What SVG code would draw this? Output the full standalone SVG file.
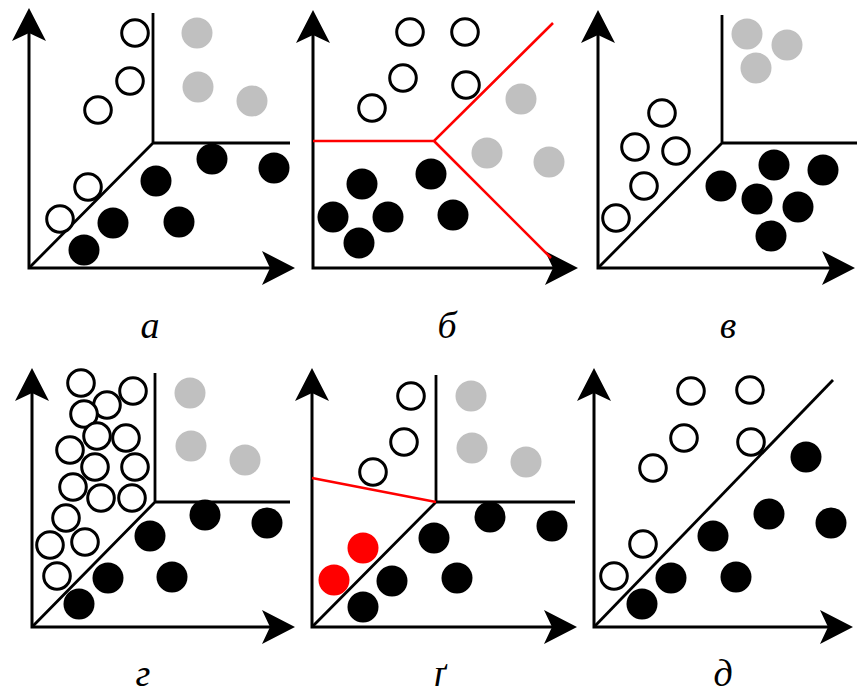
<svg xmlns="http://www.w3.org/2000/svg" width="857" height="696" viewBox="0 0 857 696">
<style>
.ax{fill:none;stroke:#000;stroke-width:3;stroke-linejoin:miter;marker-start:url(#ahs);marker-end:url(#ah)}
.bd{fill:none;stroke:#000;stroke-width:2.8}
.rd{fill:none;stroke:#f00;stroke-width:2.6}
.o{fill:#fff;stroke:#000;stroke-width:3}
.k{fill:#000}
.g{fill:#c0c0c0}
.r{fill:#f00}
.lb{font-family:"Liberation Serif","Times New Roman",serif;font-style:italic;font-size:38px;text-anchor:middle;fill:#000}
</style>
<defs>
<marker id="ah" markerUnits="userSpaceOnUse" markerWidth="34" markerHeight="34" viewBox="0 0 34 34" refX="29" refY="17" orient="auto">
<path d="M33,17 L0,0 L8,17 L0,34 Z" fill="#000"/>
</marker>
<marker id="ahs" markerUnits="userSpaceOnUse" markerWidth="34" markerHeight="34" viewBox="0 0 34 34" refX="29" refY="17" orient="auto-start-reverse">
<path d="M33,17 L0,0 L8,17 L0,34 Z" fill="#000"/>
</marker>
</defs>
<rect width="857" height="696" fill="#fff"/>

<g id="panel-a">
<g id="lines-a">
<path class="ax" d="M29,12 V268 H291"/>
<path class="bd" d="M29,268 L153,143 M153,13 V143 H290"/>
</g>
<g id="pts-a">
<circle class="o" cx="135" cy="33" r="13.3"/>
<circle class="o" cx="130" cy="81" r="13.3"/>
<circle class="o" cx="98" cy="110" r="13.3"/>
<circle class="o" cx="88" cy="187" r="13.3"/>
<circle class="o" cx="60" cy="219" r="13.3"/>
<circle class="g" cx="197" cy="33" r="15.5"/>
<circle class="g" cx="198" cy="87" r="15.5"/>
<circle class="g" cx="252" cy="101" r="15.5"/>
<circle class="k" cx="156" cy="181" r="15.5"/>
<circle class="k" cx="212" cy="159" r="15.5"/>
<circle class="k" cx="274" cy="168" r="15.5"/>
<circle class="k" cx="113" cy="223" r="15.5"/>
<circle class="k" cx="179" cy="222" r="15.5"/>
<circle class="k" cx="84" cy="250" r="15.5"/>
</g>
<text class="lb" x="150" y="338">а</text>
</g>

<g id="panel-b">
<g id="lines-b">
<path class="ax" d="M313,14 V268 H574"/>
<path class="rd" d="M313,141 H434 L553,23 M434,141 L551,258"/>
</g>
<g id="pts-b">
<circle class="o" cx="410" cy="32" r="13.3"/>
<circle class="o" cx="465" cy="32" r="13.3"/>
<circle class="o" cx="403" cy="78" r="13.3"/>
<circle class="o" cx="466" cy="85" r="13.3"/>
<circle class="o" cx="372" cy="108" r="13.3"/>
<circle class="g" cx="521" cy="99" r="15.5"/>
<circle class="g" cx="487" cy="153" r="15.5"/>
<circle class="g" cx="549" cy="162" r="15.5"/>
<circle class="k" cx="362" cy="184" r="15.5"/>
<circle class="k" cx="431" cy="174" r="15.5"/>
<circle class="k" cx="333" cy="217" r="15.5"/>
<circle class="k" cx="388" cy="217" r="15.5"/>
<circle class="k" cx="453" cy="215" r="15.5"/>
<circle class="k" cx="359" cy="243" r="15.5"/>
</g>
<text class="lb" x="447" y="338">б</text>
</g>

<g id="panel-v">
<g id="lines-v">
<path class="ax" d="M598,14 V268 H851"/>
<path class="bd" d="M598,268 L722,143 M722,15 V143 H857"/>
</g>
<g id="pts-v">
<circle class="g" cx="747" cy="34" r="15.5"/>
<circle class="g" cx="787" cy="45" r="15.5"/>
<circle class="g" cx="756" cy="68" r="15.5"/>
<circle class="o" cx="662" cy="113" r="13.3"/>
<circle class="o" cx="635" cy="147" r="13.3"/>
<circle class="o" cx="676" cy="151" r="13.3"/>
<circle class="o" cx="644" cy="186" r="13.3"/>
<circle class="o" cx="616" cy="218" r="13.3"/>
<circle class="k" cx="774" cy="165" r="15.5"/>
<circle class="k" cx="823" cy="170" r="15.5"/>
<circle class="k" cx="721" cy="186" r="15.5"/>
<circle class="k" cx="757" cy="199" r="15.5"/>
<circle class="k" cx="798" cy="207" r="15.5"/>
<circle class="k" cx="771" cy="236" r="15.5"/>
</g>
<text class="lb" x="728" y="338">в</text>
</g>

<g id="panel-g">
<g id="lines-g">
<path class="ax" d="M32,372 V627 H291"/>
<path class="bd" d="M32,627 L155,502 M155,373 V502 H290"/>
</g>
<g id="pts-g">
<circle class="o" cx="81" cy="383" r="13.3"/>
<circle class="o" cx="133" cy="391" r="13.3"/>
<circle class="o" cx="107" cy="405" r="13.3"/>
<circle class="o" cx="84" cy="414" r="13.3"/>
<circle class="o" cx="97" cy="436" r="13.3"/>
<circle class="o" cx="126" cy="438" r="13.3"/>
<circle class="o" cx="70" cy="450" r="13.3"/>
<circle class="o" cx="95" cy="467" r="13.3"/>
<circle class="o" cx="135" cy="467" r="13.3"/>
<circle class="o" cx="73" cy="487" r="13.3"/>
<circle class="o" cx="101" cy="498" r="13.3"/>
<circle class="o" cx="132" cy="498" r="13.3"/>
<circle class="o" cx="66" cy="518" r="13.3"/>
<circle class="o" cx="50" cy="545" r="13.3"/>
<circle class="o" cx="85" cy="542" r="13.3"/>
<circle class="o" cx="57" cy="576" r="13.3"/>
<circle class="g" cx="190" cy="393" r="15.5"/>
<circle class="g" cx="191" cy="446" r="15.5"/>
<circle class="g" cx="245" cy="460" r="15.5"/>
<circle class="k" cx="205" cy="515" r="15.5"/>
<circle class="k" cx="267" cy="523" r="15.5"/>
<circle class="k" cx="150" cy="536" r="15.5"/>
<circle class="k" cx="108" cy="578" r="15.5"/>
<circle class="k" cx="172" cy="577" r="15.5"/>
<circle class="k" cx="79" cy="604" r="15.5"/>
</g>
<text class="lb" x="143" y="686">г</text>
</g>

<g id="panel-gg">
<g id="lines-gg">
<path class="ax" d="M312,372 V627 H573"/>
<path class="bd" d="M312,627 L436,502 M436,375 V502 H575"/>
<path class="rd" d="M312,478 L436,502"/>
</g>
<g id="pts-gg">
<circle class="o" cx="411" cy="396" r="13.3"/>
<circle class="o" cx="404" cy="442" r="13.3"/>
<circle class="o" cx="373" cy="472" r="13.3"/>
<circle class="g" cx="471" cy="396" r="15.5"/>
<circle class="g" cx="472" cy="448" r="15.5"/>
<circle class="g" cx="526" cy="462" r="15.5"/>
<circle class="r" cx="363" cy="548" r="15.5"/>
<circle class="r" cx="334" cy="580" r="15.5"/>
<circle class="k" cx="490" cy="517" r="15.5"/>
<circle class="k" cx="552" cy="526" r="15.5"/>
<circle class="k" cx="434" cy="538" r="15.5"/>
<circle class="k" cx="392" cy="581" r="15.5"/>
<circle class="k" cx="457" cy="578" r="15.5"/>
<circle class="k" cx="363" cy="607" r="15.5"/>
</g>
<text class="lb" x="440" y="686">ґ</text>
</g>

<g id="panel-d">
<g id="lines-d">
<path class="ax" d="M594,372 V627 H849"/>
<path class="bd" d="M594,627 L833,380"/>
</g>
<g id="pts-d">
<circle class="o" cx="691" cy="391" r="13.3"/>
<circle class="o" cx="750" cy="390" r="13.3"/>
<circle class="o" cx="684" cy="438" r="13.3"/>
<circle class="o" cx="751" cy="442" r="13.3"/>
<circle class="o" cx="653" cy="468" r="13.3"/>
<circle class="o" cx="643" cy="544" r="13.3"/>
<circle class="o" cx="614" cy="576" r="13.3"/>
<circle class="k" cx="806" cy="457" r="15.5"/>
<circle class="k" cx="769" cy="514" r="15.5"/>
<circle class="k" cx="831" cy="523" r="15.5"/>
<circle class="k" cx="713" cy="536" r="15.5"/>
<circle class="k" cx="671" cy="578" r="15.5"/>
<circle class="k" cx="736" cy="577" r="15.5"/>
<circle class="k" cx="642" cy="604" r="15.5"/>
</g>
<text class="lb" x="723" y="686">д</text>
</g>
</svg>
